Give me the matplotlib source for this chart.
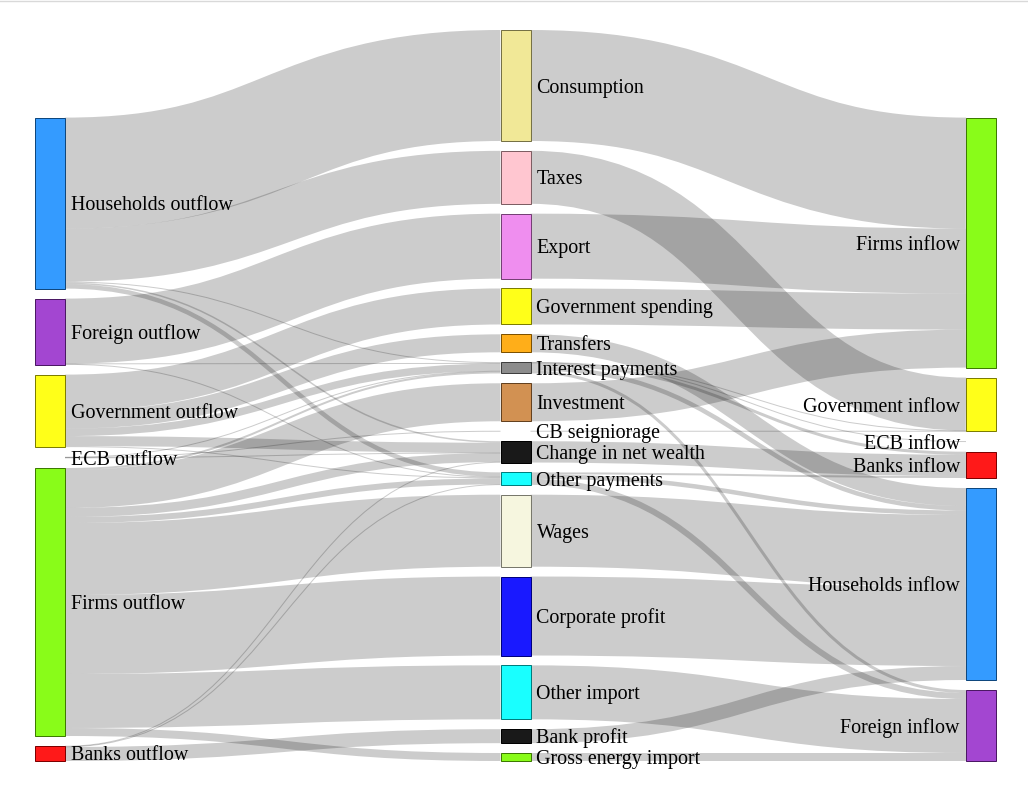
import matplotlib
matplotlib.use("Agg")
import matplotlib.pyplot as plt
from matplotlib.patches import Rectangle, PathPatch
from matplotlib.path import Path
from matplotlib.colors import to_rgb

# nodes, column by column (top to bottom)
left_nodes = ["Households outflow", "Foreign outflow", "Government outflow",
              "ECB outflow", "Firms outflow", "Banks outflow"]
mid_nodes = ["Consumption", "Taxes", "Export", "Government spending", "Transfers",
             "Interest payments", "Investment", "CB seigniorage", "Change in net wealth",
             "Other payments", "Wages", "Corporate profit", "Other import",
             "Bank profit", "Gross energy import"]
right_nodes = ["Firms inflow", "Government inflow", "ECB inflow", "Banks inflow",
               "Households inflow", "Foreign inflow"]

node_colors = {
    "Households outflow": "dodgerblue", "Foreign outflow": "darkorchid",
    "Government outflow": "yellow", "ECB outflow": "white",
    "Firms outflow": "lawngreen", "Banks outflow": "red",
    "Consumption": "khaki", "Taxes": "pink", "Export": "violet",
    "Government spending": "yellow", "Transfers": "orange",
    "Interest payments": "gray", "Investment": "peru", "CB seigniorage": "white",
    "Change in net wealth": "black", "Other payments": "aqua", "Wages": "beige",
    "Corporate profit": "blue", "Other import": "aqua", "Bank profit": "black",
    "Gross energy import": "lawngreen",
    "Firms inflow": "lawngreen", "Government inflow": "yellow", "ECB inflow": "white",
    "Banks inflow": "red", "Households inflow": "dodgerblue", "Foreign inflow": "darkorchid",
}

# sector outflows -> items
outflows = [
    ("Households outflow", "Consumption", 111),
    ("Households outflow", "Taxes", 53),
    ("Households outflow", "Interest payments", 1),
    ("Households outflow", "Change in net wealth", 1.5),
    ("Households outflow", "Other payments", 4.5),
    ("Foreign outflow", "Export", 65),
    ("Foreign outflow", "Interest payments", 0.5),
    ("Foreign outflow", "Other payments", 0.5),
    ("Government outflow", "Government spending", 36),
    ("Government outflow", "Transfers", 18),
    ("Government outflow", "Interest payments", 7.5),
    ("Government outflow", "Change in net wealth", 10),
    ("Government outflow", "Other payments", 1),
    ("ECB outflow", "Interest payments", 0.3),
    ("ECB outflow", "CB seigniorage", 0.3),
    ("ECB outflow", "Change in net wealth", 0.3),
    ("Firms outflow", "Investment", 38),
    ("Firms outflow", "Interest payments", 2),
    ("Firms outflow", "Change in net wealth", 9),
    ("Firms outflow", "Other payments", 6),
    ("Firms outflow", "Wages", 72),
    ("Firms outflow", "Corporate profit", 79),
    ("Firms outflow", "Other import", 54),
    ("Firms outflow", "Gross energy import", 8),
    ("Banks outflow", "Bank profit", 14),
    ("Banks outflow", "Other payments", 0.5),
    ("Banks outflow", "Change in net wealth", 0.5),
]

# items -> sector inflows
inflows = [
    ("Consumption", "Firms inflow", 111),
    ("Taxes", "Government inflow", 53),
    ("Export", "Firms inflow", 65),
    ("Government spending", "Firms inflow", 36),
    ("Transfers", "Households inflow", 18),
    ("Interest payments", "Government inflow", 0.5),
    ("Interest payments", "ECB inflow", 0.3),
    ("Interest payments", "Banks inflow", 3),
    ("Interest payments", "Households inflow", 4.5),
    ("Interest payments", "Foreign inflow", 3),
    ("Investment", "Firms inflow", 38),
    ("CB seigniorage", "Government inflow", 0.3),
    ("Change in net wealth", "Banks inflow", 21.3),
    ("Other payments", "Banks inflow", 2),
    ("Other payments", "Households inflow", 4.5),
    ("Other payments", "Foreign inflow", 6),
    ("Wages", "Households inflow", 72),
    ("Corporate profit", "Households inflow", 79),
    ("Other import", "Foreign inflow", 54),
    ("Bank profit", "Households inflow", 14),
    ("Gross energy import", "Foreign inflow", 8),
]

W, H, DPI = 1028, 795, 100
NODE_W, PAD = 30, 10
TOP, BOTTOM, LEFT, RIGHT = 30, 761, 35, 996
KY = 1.0  # pixels per value unit

links = outflows + inflows
columns = [left_nodes, mid_nodes, right_nodes]

val_in, val_out = {}, {}
for s, t, v in links:
    val_out[s] = val_out.get(s, 0) + v
    val_in[t] = val_in.get(t, 0) + v
value = {}
for col in columns:
    for n in col:
        value[n] = max(val_in.get(n, 0), val_out.get(n, 0))

# node layout: stacked, bottom aligned, padding squeezed if a column is full
pos = {}
for i, col in enumerate(columns):
    x0 = LEFT + i * (RIGHT - NODE_W - LEFT) / 2
    colsum = sum(value[n] * KY for n in col)
    pad = min(PAD, (BOTTOM - TOP - colsum) / (len(col) - 1))
    y = BOTTOM - colsum - (len(col) - 1) * pad
    for n in col:
        h = value[n] * KY
        pos[n] = (x0, y, h)
        y += h + pad

# link offsets inside nodes
sy, ty = {}, {}
for n in pos:
    outs = sorted([k for k, l in enumerate(links) if l[0] == n], key=lambda k: pos[links[k][1]][1])
    y = pos[n][1]
    for k in outs:
        h = links[k][2] * KY
        sy[k] = y + h / 2
        y += h
    ins = sorted([k for k, l in enumerate(links) if l[1] == n], key=lambda k: pos[links[k][0]][1])
    y = pos[n][1]
    for k in ins:
        h = links[k][2] * KY
        ty[k] = y + h / 2
        y += h

fig = plt.figure(figsize=(W / DPI, H / DPI), dpi=DPI)
ax = fig.add_axes([0, 0, 1, 1])
ax.set_xlim(0, W)
ax.set_ylim(H, 0)
ax.axis("off")

for k, (s, t, v) in enumerate(links):
    x1 = pos[s][0] + NODE_W
    x2 = pos[t][0]
    xm = (x1 + x2) / 2
    path = Path([(x1, sy[k]), (xm, sy[k]), (xm, ty[k]), (x2, ty[k])],
                [Path.MOVETO, Path.CURVE4, Path.CURVE4, Path.CURVE4])
    lw = max(1, v * KY) * 72 / DPI
    ax.add_patch(PathPatch(path, fill=False, edgecolor=(0, 0, 0, 0.2),
                           lw=lw, capstyle="butt"))

for i, col in enumerate(columns):
    for n in col:
        x0, y0, h = pos[n]
        if h >= 2:
            r, g, b = to_rgb(node_colors[n])
            ax.add_patch(Rectangle((x0, y0), NODE_W, h, facecolor=(r, g, b, 0.9),
                                   edgecolor=(r * 0.49, g * 0.49, b * 0.49),
                                   lw=72 / DPI))
        yb = y0 + h / 2 + 7
        if i < 2:
            ax.text(x0 + NODE_W + 6, yb, n, ha="left", va="baseline",
                    fontsize=14.4, family="Liberation Serif")
        else:
            ax.text(x0 - 6, yb, n, ha="right", va="baseline",
                    fontsize=14.4, family="Liberation Serif")

ax.axhline(0.5, color="#d9d9d9", lw=1)

fig.savefig("out.png", dpi=DPI)
